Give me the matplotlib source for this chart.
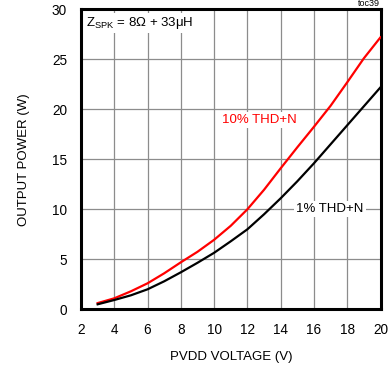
import matplotlib
matplotlib.use("Agg")
import matplotlib.pyplot as plt

plt.rcParams['font.family'] = ['Liberation Sans', 'DejaVu Sans']

voltage = [3, 4, 5, 6, 7, 8, 9, 10, 11, 12, 13, 14, 15, 16, 17, 18, 19, 20]
p_10pct = [0.62, 1.1, 1.8, 2.6, 3.6, 4.7, 5.75, 6.95, 8.35, 10.0, 11.95, 14.1, 16.2, 18.25, 20.35, 22.7, 25.1, 27.2]
p_1pct = [0.5, 0.93, 1.4, 2.0, 2.8, 3.7, 4.65, 5.65, 6.8, 8.0, 9.5, 11.1, 12.8, 14.6, 16.5, 18.4, 20.3, 22.2]
xticks = [2, 4, 6, 8, 10, 12, 14, 16, 18, 20]
yticks = [0, 5, 10, 15, 20, 25, 30]

fig = plt.figure(figsize=(3.92, 3.66), dpi=100)
ax = fig.add_axes([81/392, 1-309.3/366, 299.5/392, 300/366])
ax.plot(voltage, p_10pct, color='#ff0000', lw=1.6, zorder=3)
ax.plot(voltage, p_1pct, color='black', lw=1.6, zorder=3)
ax.set_xlim(2, 20)
ax.set_ylim(0, 30)
ax.set_xticks(xticks)
ax.set_yticks(yticks)
ax.tick_params(length=0, labelsize=9.8, pad=10)
ax.grid(True, color='#8c8c8c', lw=0.9)
ax.set_axisbelow(True)
for s in ax.spines.values():
    s.set_linewidth(2.2)
ax.set_xlabel('PVDD VOLTAGE (V)', fontsize=9.5, labelpad=10)
ax.set_ylabel('OUTPUT POWER (W)', fontsize=9.5, labelpad=16)

bb = dict(facecolor='white', edgecolor='none', pad=1.5)
ax.text(2.3, 28.6, r'Z$_{\mathregular{SPK}}$ = 8Ω + 33μH', fontsize=9.5, va='center', ha='left', bbox=bb, zorder=4)
ax.text(12.7, 18.9, '10% THD+N', color='#ff0000', fontsize=9.5, va='center', ha='center', bbox=bb, zorder=4)
ax.text(16.97, 10.0, '1% THD+N', color='black', fontsize=9.5, va='center', ha='center', bbox=bb, zorder=4)
fig.text(380/392, 1-3.5/366, 'toc39', fontsize=6.5, ha='right', va='center')

fig.savefig('out.png', dpi=100)
